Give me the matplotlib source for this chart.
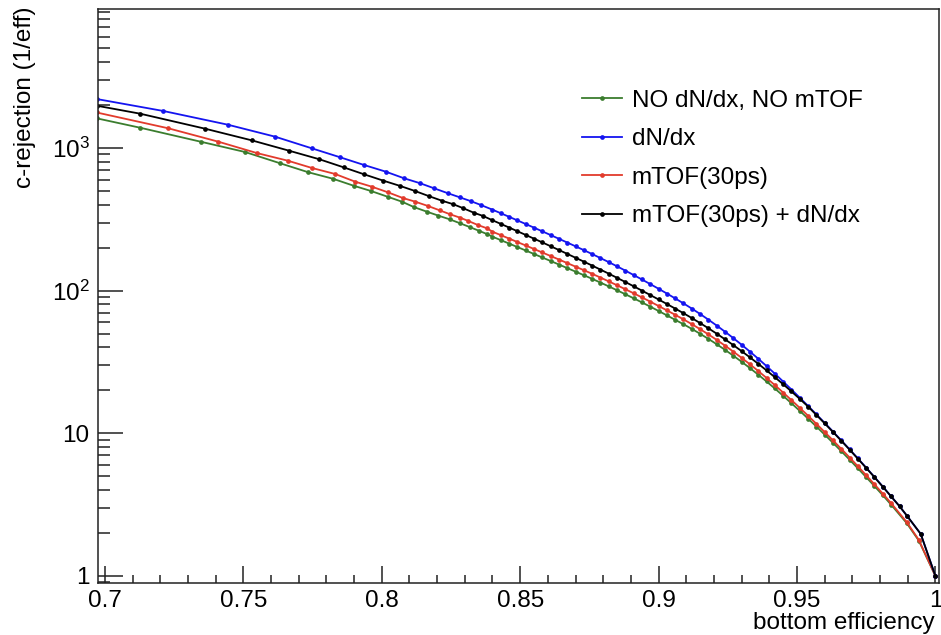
import matplotlib
matplotlib.use('Agg')
import matplotlib.pyplot as plt
from matplotlib.ticker import FixedLocator, LogLocator, NullFormatter, MultipleLocator

plt.rcParams['font.family'] = ['Liberation Sans', 'DejaVu Sans']
plt.rcParams['mathtext.fontset'] = 'custom'
plt.rcParams['mathtext.rm'] = 'Liberation Sans'
plt.rcParams['mathtext.it'] = 'Liberation Sans:italic'

# ---------------- data ----------------
labels = ["NO dN/dx, NO mTOF", "dN/dx", "mTOF(30ps)", "mTOF(30ps) + dN/dx"]
colors = ["#3b7d2e", "#1414f0", "#e23b2c", "#000000"]

eff_grid = [0.840, 0.843, 0.846, 0.849, 0.852, 0.855, 0.858, 0.861, 0.864, 0.867,
            0.870, 0.873, 0.876, 0.879, 0.882, 0.885, 0.888, 0.891, 0.894, 0.897,
            0.900, 0.903, 0.906, 0.909, 0.912, 0.915, 0.918, 0.921, 0.924, 0.927,
            0.930, 0.933, 0.936, 0.939, 0.942, 0.945, 0.948, 0.951, 0.954, 0.957,
            0.960, 0.963, 0.966, 0.969, 0.972, 0.975, 0.978, 0.981, 0.984]

# NO dN/dx, NO mTOF
x_none = ([0.697, 0.7127, 0.7346, 0.7506, 0.7633, 0.7735, 0.7823, 0.7898, 0.7961, 0.8021,
           0.8073, 0.8118, 0.8163, 0.8205, 0.8245, 0.8283, 0.8320, 0.8353, 0.8382]
          + eff_grid + [0.9896, 0.9940, 1.0])
y_none = [1612, 1385, 1105, 936, 780, 674.5, 608.4, 543.4, 498.9, 454.9,
          419.8, 383.5, 357.3, 334.9, 316.0, 296.2, 277.7, 261.6, 248.1,
          238.6, 225.7, 213.6, 201.9, 191.0, 180.5, 170.6, 161.2, 152.3, 143.8,
          135.8, 128.2, 120.9, 113.8, 107.0, 100.5, 94.28, 88.30, 82.60, 77.17,
          71.96, 67.04, 62.39, 58.10, 53.90, 49.81, 45.87, 42.08, 38.43, 34.97,
          31.71, 28.63, 25.76, 23.07, 20.60, 18.30, 16.23, 14.36, 12.67, 11.15,
          9.785, 8.572, 7.492, 6.530, 5.677, 4.925, 4.260, 3.677, 3.160,
          2.35, 1.77, 1.0]

# dN/dx
x_dndx = ([0.697, 0.7211, 0.7444, 0.7615, 0.7747, 0.7850, 0.7936, 0.8015, 0.8081, 0.8139,
           0.8189, 0.8239, 0.8281, 0.8323, 0.8358]
          + eff_grid + [0.9871, 0.9898, 0.9947, 1.0])
y_dndx = [2201, 1814, 1454, 1198, 993.6, 859, 759, 681, 612, 565,
          521, 481, 451, 422.6, 398,
          368.9, 348.4, 328.9, 310.4, 292.8, 276.1, 260.1, 245.0, 230.7, 217.2,
          204.3, 192.1, 180.3, 169.0, 158.3, 147.9, 138.0, 128.5, 119.6, 111.0,
          103.0, 95.35, 88.14, 81.34, 74.82, 68.54, 62.55, 56.86, 51.49, 46.44,
          41.73, 37.35, 33.30, 29.57, 26.16, 23.05, 20.26, 17.77, 15.54, 13.57,
          11.83, 10.28, 8.913, 7.716, 6.662, 5.739, 4.934, 4.231, 3.613,
          3.07, 2.63, 1.97, 1.0]

# mTOF(30ps)
x_mtof = ([0.697, 0.7229, 0.7410, 0.7548, 0.7661, 0.7748, 0.7832, 0.7904, 0.7964, 0.8022,
           0.8076, 0.8121, 0.8167, 0.8209, 0.8247, 0.8283, 0.8313, 0.8347, 0.8380]
          + eff_grid + [0.9896, 0.9940, 1.0])
y_mtof = [1771, 1372, 1105, 921, 813, 723, 656, 579.7, 534.8, 488.6,
          445.6, 419.8, 391.6, 365.3, 342.5, 324.2, 307.4, 288.2, 273.3,
          258.6, 244.7, 231.5, 218.9, 207.0, 195.7, 184.9, 174.7, 165.1, 155.9,
          147.2, 139.0, 131.1, 123.4, 116.0, 108.97, 102.2, 95.72, 89.54, 83.65,
          78.01, 72.67, 67.63, 62.84, 58.18, 53.65, 49.30, 45.12, 41.12, 37.34,
          33.78, 30.43, 27.32, 24.42, 21.75, 19.29, 17.07, 15.07, 13.27, 11.65,
          10.20, 8.916, 7.776, 6.763, 5.867, 5.078, 4.383, 3.775, 3.237,
          2.39, 1.79, 1.0]

# mTOF(30ps) + dN/dx
x_both = ([0.697, 0.7127, 0.7362, 0.7530, 0.7665, 0.7775, 0.7862, 0.7936, 0.8006, 0.8067,
           0.8120, 0.8169, 0.8217, 0.8259, 0.8295, 0.8332, 0.8366]
          + eff_grid + [0.9871, 0.9898, 0.9947, 1.0])
y_both = [1976, 1737, 1363, 1130, 955.9, 832, 731, 653, 589, 540.8,
          498.9, 460.1, 426.6, 402.5, 377.3, 351.6, 333.3,
          311.0, 293.4, 276.6, 260.6, 245.5, 231.1, 217.6, 204.6, 192.5, 180.9,
          169.9, 159.6, 149.7, 140.3, 131.4, 122.9, 114.8, 107.2, 99.92, 93.07,
          86.63, 80.54, 74.81, 69.41, 64.22, 59.21, 54.43, 49.88, 45.55, 41.47,
          37.63, 34.04, 30.69, 27.58, 24.71, 22.06, 19.63, 17.41, 15.39, 13.44,
          11.73, 10.21, 8.860, 7.676, 6.628, 5.713, 4.917, 4.218, 3.607,
          3.07, 2.63, 1.97, 1.0]

x_ticks = [0.7, 0.75, 0.8, 0.85, 0.9, 0.95, 1.0]
x_ticklabels = ["0.7", "0.75", "0.8", "0.85", "0.9", "0.95", "1"]
y_ticks = [1, 10, 100, 1000]
y_ticklabels = ["1", "10", r"$\mathregular{10^{2}}$", r"$\mathregular{10^{3}}$"]

# ---------------- figure ----------------
W, H = 941, 635
fig = plt.figure(figsize=(W / 100, H / 100), dpi=100)
ax = fig.add_axes([98 / W, 1 - 582.7 / H, (939 - 98) / W, (582.7 - 9.3) / H])

series = [(x_none, y_none, 0), (x_mtof, y_mtof, 2), (x_dndx, y_dndx, 1), (x_both, y_both, 3)]
handles = {}
for xs, ys, i in series:
    h, = ax.plot(xs, ys, '-o', color=colors[i], lw=1.3, ms=3.4, mew=0, label=labels[i])
    handles[i] = h

ax.set_yscale('log')
ax.set_xlim(0.6975, 1.0013)
ax.set_ylim(0.897, 9360)

ax.xaxis.set_major_locator(FixedLocator(x_ticks))
ax.set_xticklabels(x_ticklabels)
ax.xaxis.set_minor_locator(MultipleLocator(0.01))
ax.yaxis.set_major_locator(FixedLocator(y_ticks))
ax.set_yticklabels(y_ticklabels)
ax.yaxis.set_minor_locator(LogLocator(base=10, subs=[2, 3, 4, 5, 6, 7, 8, 9], numticks=20))
ax.yaxis.set_minor_formatter(NullFormatter())

tc = '#222222'
ax.tick_params(axis='both', which='both', direction='in', colors=tc, width=1.1,
               top=False, right=False, labelsize=17.5, labelcolor='black')
ax.tick_params(axis='y', which='major', length=18, pad=6)
ax.tick_params(axis='y', which='minor', length=8.6)
ax.tick_params(axis='x', which='major', length=12, pad=5)
ax.tick_params(axis='x', which='minor', length=5.5)
for s in ax.spines.values():
    s.set_linewidth(1.1)
    s.set_color(tc)

leg = ax.legend([handles[0], handles[1], handles[2], handles[3]],
                [labels[0], labels[1], labels[2], labels[3]],
                loc='upper left', bbox_to_anchor=(0.5755, 0.8600), frameon=False,
                fontsize=17.5, handlelength=1.65, handletextpad=0.4, labelspacing=0.68,
                borderpad=0, borderaxespad=0)

fig.text(935 / W, 1 - 629 / H, "bottom efficiency", ha='right', va='baseline', fontsize=17.5)
fig.text(25 / W, 1 - 6 / H, "c-rejection (1/eff)", ha='center', va='top', rotation=90, fontsize=17.5)

fig.savefig('out.png', dpi=100)
